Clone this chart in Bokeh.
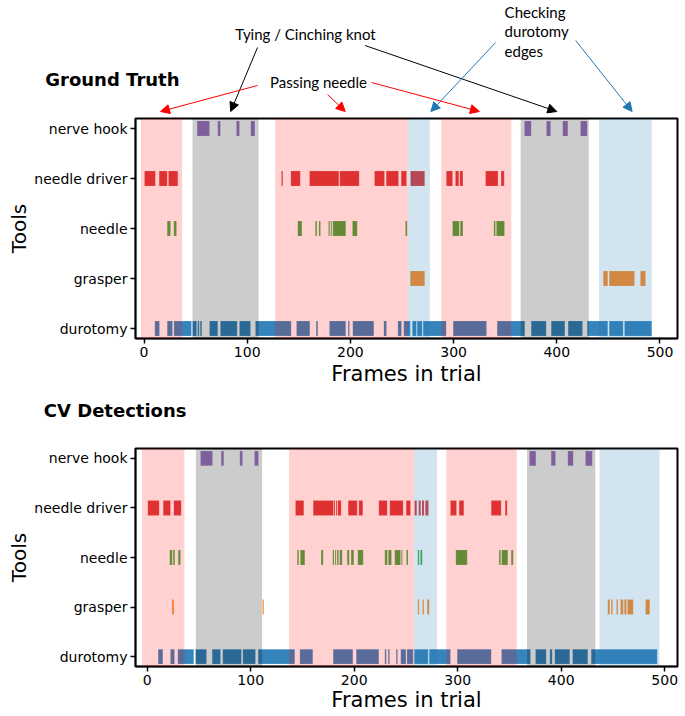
from bokeh.plotting import figure
from bokeh.models import ColumnDataSource, FixedTicker, Label, Arrow, NormalHead, BoxAnnotation, Range1d
from bokeh.layouts import column
from bokeh.embed import file_html
from bokeh.resources import INLINE

# ---------------- data ----------------
tools = ["durotomy", "grasper", "needle", "needle driver", "nerve hook"]
tool_colors = ["#1f77b4", "#ff7f0e", "#2ca02c", "#d62728", "#9467bd"]
x_ticks = [0, 100, 200, 300, 400, 500]

phase_colors = {"passing": "#ff0000", "tying": "#000000", "checking": "#1f77b4"}
phase_alphas = {"passing": 0.18, "tying": 0.2, "checking": 0.2}

gt_phase_kind = ["passing", "tying", "passing", "checking", "passing", "tying", "checking"]
gt_phase_start = [-3, 47, 127, 256, 288, 365, 441]
gt_phase_end = [37, 111, 256, 277, 356, 431, 492]

cv_phase_kind = ["passing", "tying", "passing", "checking", "passing", "tying", "checking"]
cv_phase_start = [-5, 47, 137, 258, 289, 367, 437]
cv_phase_end = [36, 111, 258, 280, 357, 433, 495]

# frames the phase-annotation arrows point at (ground truth panel)
passing_arrow_frames = [16, 195, 325]
tying_arrow_frames = [84, 400]
checking_arrow_frames = [278, 473]

# ground truth tool presence intervals (frame start, frame end)
gt_nerve_hook = [(51.5, 63.5), (71.5, 74), (89.6, 92.5), (103.5, 107.4),
                 (368.7, 375.2), (390, 394), (405.8, 410.7), (423, 429.5)]
gt_needle_driver = [(0.5, 11), (14.7, 22.5), (23.7, 32.8), (133.2, 134.5), (142.3, 151.4),
                    (160.4, 188.8), (189.7, 208.5), (223.4, 233), (234.7, 246.6), (249.2, 254.4),
                    (258.2, 272), (293, 299), (301.8, 305), (306, 309), (331, 343), (346, 349)]
gt_needle = [(22.5, 25.7), (28.9, 31.5), (149, 153), (166, 167.5), (169.5, 171), (178.8, 180),
             (181, 182), (183, 195.5), (202, 206.6), (253.4, 255), (299, 305.5), (306.5, 309),
             (339, 340.5), (341.5, 349.3)]
gt_grasper = [(258, 272), (445, 449.4), (450.8, 475.3), (481, 486)]
gt_durotomy = [(10.5, 15), (22.5, 27.6), (29, 46), (47, 51), (52, 53.5), (54.5, 56), (63.5, 71.5),
               (74, 90.3), (92.5, 103.2), (108, 142.6), (147.8, 160.7), (166.8, 168.4),
               (179.7, 195.5), (197.8, 199.1), (202.3, 222.7), (232.4, 235), (246, 249.5),
               (251.7, 258), (260, 264), (264.7, 269.6), (270.5, 292.8), (299.6, 331.9),
               (342.2, 369), (375.2, 389.7), (394.6, 407.8), (411, 424.9), (429.5, 449.4),
               (450.8, 464.3), (465.6, 492)]

# CV detections tool presence intervals
cv_nerve_hook = [(51.5, 63.1), (71.5, 74), (89.5, 92.1), (103.7, 107.5),
                 (369.4, 375.5), (390.3, 394.5), (406.4, 411.6), (423.5, 430)]
cv_needle_driver = [(0.6, 11.6), (15.5, 22.5), (25.7, 32.9), (143.3, 151.3), (160.4, 180),
                    (180.5, 181.5), (182.5, 183.5), (184.2, 187.4), (194.2, 202.9), (204.5, 208.3),
                    (223.8, 231.9), (234.4, 247.3), (250.2, 254.4), (258.3, 260.5), (262.3, 264.3),
                    (265.5, 267.5), (268.7, 271.8), (293, 298.8), (301.4, 305.9), (332.4, 342),
                    (345.9, 347.8)]
cv_needle = [(21.8, 24.2), (25.1, 26.7), (30, 32.2), (145, 146.5), (148, 152.3), (168, 170),
             (179.3, 180.5), (181.5, 182.5), (183.5, 185), (186, 188.4), (193.2, 195.2),
             (197, 199.6), (203.5, 208.7), (229.6, 232), (233, 236), (239.2, 244.7),
             (245.5, 246.5), (250.5, 252), (261.5, 262.8), (264, 265.7), (298.2, 309.2),
             (340, 341.5), (342.5, 348.4), (351.7, 353.6)]
cv_grasper = [(24, 25.7), (111.4, 112.7), (261.5, 262.8), (266, 267.3), (270.5, 272.5),
              (445, 447), (448.3, 449.7), (453.4, 454.8), (457.3, 460), (461, 463),
              (464, 469.6), (481.5, 485.6)]
cv_durotomy = [(10.6, 15.1), (22.5, 26.4), (29.6, 45), (46.7, 57.3), (62.8, 70.8), (73, 91),
               (92.4, 104.6), (107.2, 142.6), (147.5, 160), (179.7, 198.7), (202, 223.8),
               (229.6, 231), (232.8, 234.2), (240.6, 241.9), (245, 250), (251, 257),
               (258, 271.5), (272.5, 293), (299.5, 332.4), (342.3, 370.3), (375.2, 385.5),
               (389, 391.3), (393.8, 408.3), (411, 425.7), (429, 492.8)]

gt_bars = [gt_durotomy, gt_grasper, gt_needle, gt_needle_driver, gt_nerve_hook]
cv_bars = [cv_durotomy, cv_grasper, cv_needle, cv_needle_driver, cv_nerve_hook]

AX_FONT = "DejaVu Sans"
NOTE_FONT = "Lato"
W = 684
B_LEFT = 135
B_RIGHT = 7

top_xr = Range1d(-8.24, 516.97)
bot_xr = Range1d(-11.3, 512.37)


def make_panel(bars, ph_kind, ph_start, ph_end, x_range, height, b_bottom, label_standoff):
    p = figure(width=W, height=height, x_range=x_range, y_range=(-0.2, 4.2),
               output_backend="svg", toolbar_location=None,
               min_border_left=B_LEFT, min_border_right=B_RIGHT,
               min_border_top=2, min_border_bottom=b_bottom)
    p.xgrid.visible = False
    p.ygrid.visible = False
    p.outline_line_color = "black"
    p.outline_line_width = 2
    p.outline_line_alpha = 1

    for i, (col, ivals) in enumerate(zip(tool_colors, bars)):
        src = ColumnDataSource(dict(y=[i] * len(ivals),
                                    left=[a for a, b in ivals],
                                    right=[b for a, b in ivals]))
        p.hbar(y="y", left="left", right="right", height=0.3, source=src,
               fill_color=col, fill_alpha=0.9, line_color="white", line_alpha=0.25, line_width=0.6)

    for k, s, e in zip(ph_kind, ph_start, ph_end):
        p.add_layout(BoxAnnotation(left=s, right=e, fill_color=phase_colors[k],
                                   fill_alpha=phase_alphas[k], line_alpha=0))

    p.xaxis.ticker = FixedTicker(ticks=x_ticks)
    p.yaxis.ticker = FixedTicker(ticks=list(range(len(tools))))
    p.yaxis.major_label_overrides = {i: t for i, t in enumerate(tools)}
    p.xaxis.axis_label = "Frames in trial"
    p.yaxis.axis_label = "Tools"
    for ax in (p.xaxis[0], p.yaxis[0]):
        ax.axis_line_color = "black"
        ax.axis_line_width = 1.5
        ax.major_tick_line_color = "black"
        ax.major_tick_line_width = 1.5
        ax.major_tick_out = 5
        ax.major_tick_in = 0
        ax.minor_tick_line_color = None
        ax.major_label_text_font = AX_FONT
        ax.major_label_text_font_size = "14px"
        ax.major_label_text_color = "black"
        ax.major_label_standoff = 3
        ax.axis_label_text_font = AX_FONT
        ax.axis_label_text_font_style = "normal"
        ax.axis_label_text_color = "black"
    p.xaxis.axis_label_text_font_size = "21px"
    p.yaxis.axis_label_text_font_size = "20px"
    p.xaxis.axis_label_standoff = label_standoff
    p.yaxis.axis_label_standoff = 0
    return p


def make_header(height, y_top_page, x_range, title, title_y, title_standoff):
    # header strip above a panel: x in the panel's frame units, y in page pixels
    h = figure(width=W, height=height, x_range=x_range,
               y_range=Range1d(y_top_page + height, y_top_page),
               x_axis_location=None, y_axis_location="left",
               min_border_left=B_LEFT, min_border_right=B_RIGHT, min_border_top=0, min_border_bottom=0,
               output_backend="svg", toolbar_location=None, outline_line_color=None)
    h.xgrid.visible = False
    h.ygrid.visible = False
    ax = h.yaxis[0]
    ax.ticker = FixedTicker(ticks=[title_y])
    ax.major_label_overrides = {title_y: title}
    ax.axis_line_color = None
    ax.major_tick_line_color = None
    ax.minor_tick_line_color = None
    ax.major_tick_out = 0
    ax.major_tick_in = 0
    ax.major_label_standoff = title_standoff
    ax.major_label_text_font = AX_FONT
    ax.major_label_text_font_size = "18px"
    ax.major_label_text_font_style = "bold"
    ax.major_label_text_color = "black"
    return h


def add_text(p, x, y, text, size, align="left"):
    p.add_layout(Label(x=x, y=y, text=text, text_font=NOTE_FONT, text_font_size=size,
                       text_align=align, text_baseline="middle", text_color="black"))


def add_arrow(p, x0, y0, x1, y1, color):
    p.add_layout(Arrow(end=NormalHead(size=9, fill_color=color, line_color=color),
                       x_start=x0, y_start=y0, x_end=x1, y_end=y1,
                       line_color=color, line_width=1))


def px_to_frame(px):  # page pixel -> ground-truth frame units (annotation placement)
    return (px - 143.55) / 1.0315


head1 = make_header(116, 0, top_xr, "Ground Truth", 79, -44)
add_text(head1, px_to_frame(305), 33, "Tying / Cinching knot", "15px", align="center")
add_text(head1, px_to_frame(504), 11, "Checking", "15px")
add_text(head1, px_to_frame(504), 30, "durotomy", "15px")
add_text(head1, px_to_frame(504), 50, "edges", "15px")
add_text(head1, px_to_frame(318), 81, "Passing needle", "15px", align="center")

tip_y = 111
add_arrow(head1, px_to_frame(257), 47, tying_arrow_frames[0], tip_y, "black")
add_arrow(head1, px_to_frame(364.5), 45, tying_arrow_frames[1], tip_y, "black")
add_arrow(head1, px_to_frame(495), 42, checking_arrow_frames[0], tip_y, "#1f77b4")
add_arrow(head1, px_to_frame(575), 40, checking_arrow_frames[1], tip_y, "#1f77b4")
add_arrow(head1, px_to_frame(257), 85, passing_arrow_frames[0], tip_y, "red")
add_arrow(head1, px_to_frame(327), 94, passing_arrow_frames[1], tip_y, "red")
add_arrow(head1, px_to_frame(371), 82, passing_arrow_frames[2], tip_y, "red")

top = make_panel(gt_bars, gt_phase_kind, gt_phase_start, gt_phase_end, top_xr, 273, 51, 2)

head2 = make_header(57, 389, bot_xr, "CV Detections", 410, -51)

bot = make_panel(cv_bars, cv_phase_kind, cv_phase_start, cv_phase_end, bot_xr, 269, 49, 0)

layout = column(head1, top, head2, bot, spacing=0)
open("out.html", "w").write(file_html(layout, INLINE))
